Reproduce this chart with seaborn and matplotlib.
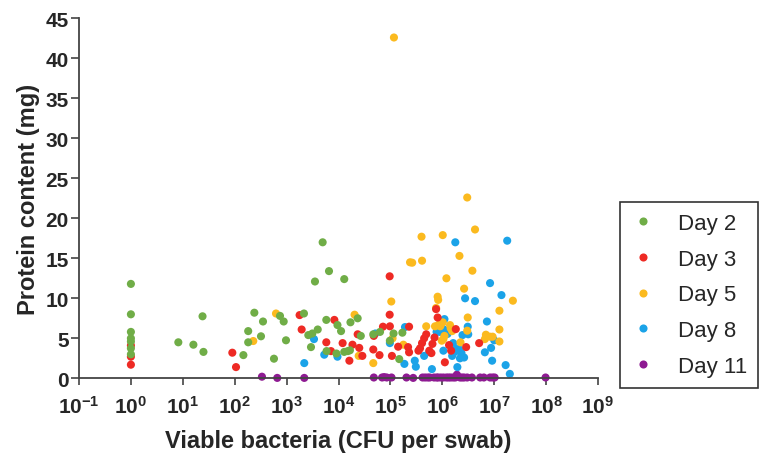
import numpy as np
import pandas as pd
import matplotlib
matplotlib.use("Agg")
import matplotlib.pyplot as plt
import seaborn as sns

# ---- data (CFU per swab, protein mg) ----
day2_cfu = [1, 1, 1, 1, 1, 1, 1, 8.2, 16, 24, 25, 147, 182, 182, 239, 321, 351, 571, 746, 879, 973,
            2160, 2620, 3130, 3980, 2950, 5820, 5890, 4950, 6560, 3520, 12900, 23400, 17000, 9550,
            11200, 9120, 12900, 15100, 16600, 26900, 46800, 63100, 97700, 115000, 148000, 170000]
day2_mg = [11.8, 8.0, 5.8, 5.0, 4.6, 3.75, 3.0, 4.5, 4.2, 7.75, 3.3, 2.9, 5.9, 4.5, 8.2, 5.25, 7.1, 2.45, 7.8, 7.1, 4.75,
           8.1, 5.4, 5.6, 6.1, 3.9, 7.3, 3.4, 17.0, 13.4, 12.1, 12.4, 7.5, 7.0, 6.66,
           5.9, 3.1, 3.3, 3.4, 3.5, 5.3, 5.5, 5.8, 4.7, 5.6, 2.4, 5.7]

day3_cfu = [1, 1, 1, 90, 106, 1780, 1950, 5820, 7160, 8320, 12000, 16200, 18600, 23400, 25100, 28800,
            46800, 47900, 61700, 96800, 96800, 97700, 71900, 107000, 141000, 219000, 229000, 229000,
            347000, 372000, 407000, 447000, 490000, 562000, 708000, 759000, 813000, 646000, 617000,
            1350000, 1480000, 1120000, 1820000, 2880000, 5130000]
day3_mg = [4.1, 2.7, 1.7, 3.2, 1.4, 7.9, 6.1, 4.5, 3.4, 7.3, 4.4, 2.2, 4.2, 5.5, 3.8, 2.8,
           3.6, 5.3, 2.9, 12.75, 7.95, 6.5, 6.45, 2.8, 3.95, 3.9, 6.45, 3.25,
           3.45, 3.75, 4.4, 5.0, 5.5, 3.45, 5.1, 8.65, 7.6, 4.3, 3.15,
           4.15, 3.45, 2.0, 6.15, 3.9, 4.4]

day5_cfu = [228, 625, 20400, 24500, 46800, 104000, 110000, 178000, 239000, 117000, 490000, 759000, 724000,
            3020000, 4270000, 398000, 1020000, 2140000, 263000, 407000, 3800000, 1200000, 2630000,
            22900000, 813000, 832000, 12600000, 3090000, 12600000, 6920000, 8320000, 6610000, 9330000,
            12600000, 3020000, 2240000, 1410000, 1450000, 1550000, 1020000, 955000, 912000, 851000,
            1100000, 1050000, 977000]
day5_mg = [4.66, 8.1, 7.95, 2.8, 1.9, 9.6, 5.0, 4.2, 14.5, 42.6, 6.5, 8.8, 6.5,
           22.6, 18.6, 17.7, 17.9, 15.3, 14.45, 14.7, 13.45, 12.5, 11.2,
           9.7, 10.2, 9.8, 8.45, 7.6, 6.1, 5.45, 5.2, 4.9, 5.2,
           4.6, 5.95, 4.5, 6.65, 6.25, 5.9, 7.0, 6.8, 6.5, 6.7,
           5.3, 4.9, 4.7]

day8_cfu = [2190, 3370, 5320, 9550, 51300, 97700, 191000, 186000, 295000, 309000, 447000, 631000, 776000,
            17800000, 1780000, 8320000, 13800000, 2750000, 4270000, 7240000, 1100000, 10000000, 8710000,
            6610000, 9120000, 16600000, 20000000, 3090000, 3160000, 2450000, 2090000, 2340000, 2630000,
            2190000, 1950000, 891000, 1050000, 1120000, 1260000, 1620000, 1510000, 1740000, 1550000,
            1860000, 1050000, 562000]
day8_mg = [1.9, 4.9, 2.95, 2.7, 5.6, 4.4, 6.4, 1.8, 2.2, 1.45, 2.8, 1.15, 5.8,
           17.2, 17.0, 11.9, 10.4, 10.0, 9.65, 7.1, 7.4, 4.75, 3.8,
           3.25, 2.2, 1.65, 0.55, 6.45, 5.5, 5.4, 3.65, 3.15, 2.6,
           2.5, 1.4, 5.8, 6.15, 5.55, 5.55, 4.4, 3.8, 3.3, 2.8,
           3.65, 3.45, 3.3]

day11_cfu = [335, 661, 2190, 47900, 69200, 75900, 85100, 105000, 204000, 275000, 417000, 468000, 525000,
             575000, 692000, 776000, 832000, 933000, 1050000, 1200000, 1320000, 1450000, 1620000, 1780000,
             1910000, 2190000, 2400000, 2630000, 3020000, 3720000, 5370000, 6310000, 8320000, 9330000,
             10200000, 97700000]
day11_mg = [0.2, 0.05, 0.05, 0.1, 0.1, 0.15, 0.1, 0.1, 0.1, 0.05, 0.1, 0.1, 0.1,
            0.1, 0.1, 0.1, 0.1, 0.1, 0.1, 0.1, 0.1, 0.1, 0.1, 0.1,
            0.45, 0.1, 0.1, 0.1, 0.1, 0.1, 0.1, 0.1, 0.1, 0.1,
            0.1, 0.1]

days = ["Day 2", "Day 3", "Day 5", "Day 8", "Day 11"]
colors = ["#70AD47", "#EE2A24", "#FBBA1F", "#1BA3E8", "#8E1A92"]
x_ticks = [1e-1, 1e0, 1e1, 1e2, 1e3, 1e4, 1e5, 1e6, 1e7, 1e8, 1e9]
x_tick_labels = ["$10^{-1}$", "$10^{0}$", "$10^{1}$", "$10^{2}$", "$10^{3}$", "$10^{4}$",
                 "$10^{5}$", "$10^{6}$", "$10^{7}$", "$10^{8}$", "$10^{9}$"]
y_ticks = [0, 5, 10, 15, 20, 25, 30, 35, 40, 45]

series = {"Day 2": (day2_cfu, day2_mg), "Day 3": (day3_cfu, day3_mg), "Day 5": (day5_cfu, day5_mg),
          "Day 8": (day8_cfu, day8_mg), "Day 11": (day11_cfu, day11_mg)}
frames = []
for d in reversed(days):
    c, m = series[d]
    frames.append(pd.DataFrame({"cfu": c, "mg": m, "day": d}))
df = pd.concat(frames, ignore_index=True)

sns.set_style("white")
plt.rcParams["font.family"] = ["Liberation Sans", "DejaVu Sans"]
plt.rcParams["mathtext.fontset"] = "custom"
plt.rcParams["mathtext.rm"] = "Liberation Sans:bold"
plt.rcParams["mathtext.it"] = "Liberation Sans:bold"
plt.rcParams["mathtext.bf"] = "Liberation Sans:bold"
plt.rcParams["mathtext.default"] = "rm"

fig = plt.figure(figsize=(7.67, 4.56), dpi=100)
ax = fig.add_axes([79 / 767, 1 - 379.3 / 456, (598 - 79) / 767, (379.3 - 19.3) / 456])

sns.scatterplot(data=df, x="cfu", y="mg", hue="day", hue_order=days, palette=colors,
                s=34, linewidth=0, alpha=1, ax=ax, clip_on=False, legend=True)

ax.set_xscale("log")
ax.set_xlim(1e-1, 1e9)
ax.set_ylim(0, 45)
ax.set_xticks(x_ticks)
ax.set_xticklabels(x_tick_labels)
ax.xaxis.set_minor_locator(matplotlib.ticker.NullLocator())
ax.set_yticks(y_ticks)
ax.set_yticklabels([str(v) for v in y_ticks])

for s in ["top", "right"]:
    ax.spines[s].set_visible(False)
for s in ["left", "bottom"]:
    ax.spines[s].set_color("#444444")
    ax.spines[s].set_linewidth(1.3)

ax.tick_params(axis="y", direction="out", length=6, width=1.2, color="#444444", pad=1.5,
               labelsize=15, left=True)
ax.tick_params(axis="x", direction="out", length=5, width=1.2, color="#444444", pad=7,
               labelsize=15, bottom=True)
for lab in ax.get_yticklabels():
    lab.set_fontweight("bold")

ax.set_xlabel("Viable bacteria (CFU per swab)", fontsize=17, fontweight="bold", labelpad=9)
ax.set_ylabel("Protein content (mg)", fontsize=17, fontweight="bold", labelpad=4)

handles, labels = ax.get_legend_handles_labels()
ax.legend_.remove()
leg = fig.legend(handles, labels, loc="upper left", bbox_to_anchor=(620 / 767, 1 - 203 / 456),
                 frameon=True, fancybox=False, edgecolor="black", fontsize=16,
                 handlelength=1.1, handletextpad=1.0, labelspacing=0.66, borderpad=0.5,
                 borderaxespad=0, markerscale=1.0)
leg.get_frame().set_linewidth(1.2)

fig.savefig("out.png", dpi=100, facecolor="white")
